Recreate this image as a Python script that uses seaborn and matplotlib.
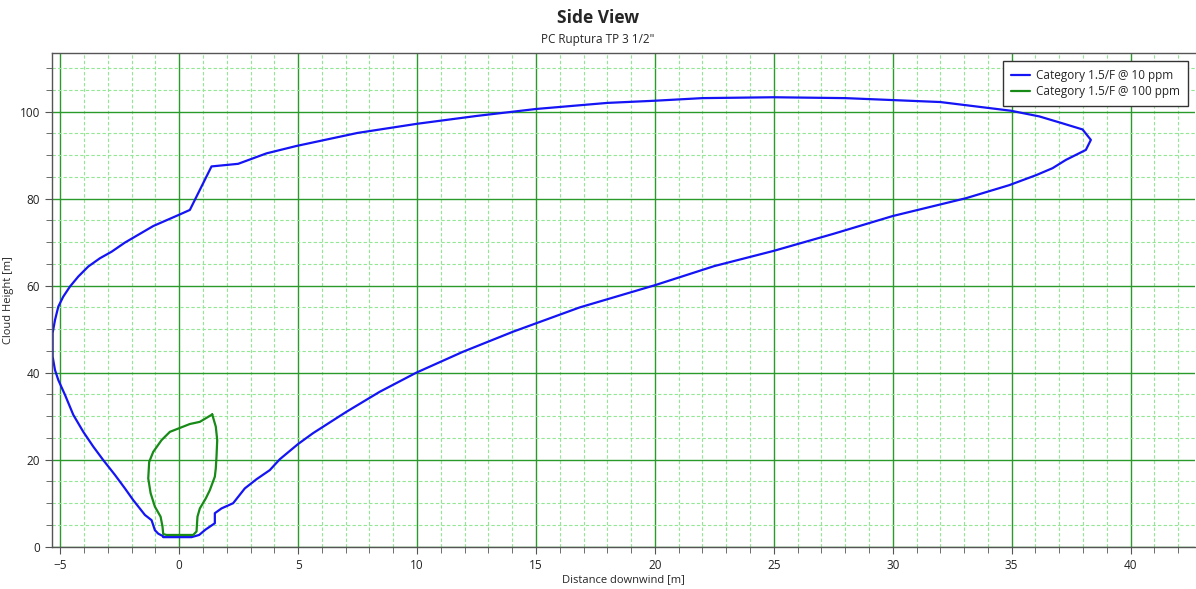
import numpy as np
import pandas as pd
import seaborn as sns
import matplotlib.pyplot as plt
from matplotlib.ticker import MultipleLocator

# contour: distance downwind [m], cloud height [m]
x_10ppm = [-0.67, -0.5, 0.0, 0.52, 0.84, 1.1, 1.5, 1.5, 1.78, 2.27, 2.76, 3.25, 3.81, 4.23, 5.0,
           5.63, 7.03, 8.43, 9.97, 11.93, 14.03, 16.84, 20.0, 22.5, 25.0, 27.5, 30.0, 33.08, 34.9,
           36.03, 36.72, 37.28, 38.12, 38.33, 37.98, 37.14, 36.16, 34.97, 32.0, 28.0, 25.0, 22.0,
           20.0, 18.0, 15.0, 12.5, 10.0, 7.5, 4.93, 3.67, 2.48, 1.36, 0.45, 0.0, -1.09, -2.28,
           -2.84, -3.33, -3.82, -4.24, -4.59, -4.87, -5.08, -5.22, -5.32, -5.32, -5.22, -5.08,
           -4.8, -4.45, -4.03, -3.61, -3.19, -2.7, -2.28, -1.93, -1.44, -1.16, -1.02, -0.88, -0.67]
y_10ppm = [2.2, 2.2, 2.2, 2.2, 2.7, 3.9, 5.4, 7.7, 8.8, 10.0, 13.4, 15.5, 17.6, 20.1, 23.6,
           26.1, 31.0, 35.6, 40.0, 44.8, 49.4, 55.0, 60.1, 64.5, 68.0, 71.9, 76.0, 80.1, 83.1,
           85.4, 87.0, 88.9, 91.2, 93.5, 95.9, 97.3, 98.9, 100.2, 102.2, 103.1, 103.3, 103.1,
           102.5, 102.0, 100.6, 99.0, 97.2, 95.1, 92.1, 90.4, 88.0, 87.4, 77.4, 76.3, 73.7, 69.9,
           67.8, 66.3, 64.4, 62.1, 59.8, 57.5, 55.2, 52.1, 49.1, 43.7, 40.6, 38.3,
           34.9, 30.3, 26.4, 23.0, 19.9, 16.5, 13.4, 10.7, 7.3, 6.1, 3.8, 3.0, 2.4]

x_100ppm = [1.39, 0.87, 0.45, -0.39, -0.74, -1.09, -1.26, -1.3, -1.2, -1.02, -0.78, -0.7, -0.67,
            -0.53, 0.59, 0.73, 0.77, 0.87, 1.12, 1.29, 1.5, 1.54, 1.57, 1.6, 1.54, 1.39]
y_100ppm = [30.4, 28.7, 28.2, 26.4, 24.5, 21.8, 19.5, 15.7, 12.3, 9.2, 6.9, 4.6, 2.9,
            2.7, 2.7, 3.5, 6.9, 8.8, 11.1, 13.0, 16.1, 18.0, 20.7, 24.5, 27.6, 30.4]

labels = ['Category 1.5/F @ 10 ppm', 'Category 1.5/F @ 100 ppm']

df = pd.concat([
    pd.DataFrame({'x': x_10ppm, 'y': y_10ppm, 'series': labels[0]}),
    pd.DataFrame({'x': x_100ppm, 'y': y_100ppm, 'series': labels[1]}),
], ignore_index=True)

sns.set_style('white')
plt.rcParams['font.family'] = ['Open Sans', 'DejaVu Sans']

fig = plt.figure(figsize=(11.96, 5.89), dpi=100)
ax = fig.add_axes([0.0432, 0.0718, 0.9558, 0.8377])

sns.lineplot(data=df, x='x', y='y', hue='series', estimator=None, sort=False,
             palette={labels[0]: '#1414f5', labels[1]: '#178a17'}, linewidth=1.6, ax=ax)

ax.set_xlim(-5.36, 42.7)
ax.set_ylim(0, 113.4)
ax.xaxis.set_major_locator(MultipleLocator(5))
ax.xaxis.set_minor_locator(MultipleLocator(1))
ax.yaxis.set_major_locator(MultipleLocator(20))
ax.yaxis.set_minor_locator(MultipleLocator(5))

ax.grid(which='minor', color='#92e892', linestyle=(0, (3, 2)), linewidth=0.8)
ax.grid(which='major', color='#2a9a2a', linestyle='-', linewidth=1.0)
ax.set_axisbelow(True)

for side in ['left', 'bottom', 'top']:
    ax.spines[side].set_color('#555555')
    ax.spines[side].set_linewidth(1.0)
ax.spines['right'].set_visible(False)

ax.tick_params(which='both', direction='out', color='#555555', labelsize=8.5, labelcolor='#222222',
               bottom=True, left=True)
ax.tick_params(which='major', length=5)
ax.tick_params(which='minor', length=4)

ax.set_xlabel('Distance downwind [m]', fontsize=8, labelpad=2)
ax.set_ylabel('Cloud Height [m]', fontsize=8, labelpad=4)

fig.text(0.5, 0.985, 'Side View', ha='center', va='top', fontsize=12.5, fontweight='bold')
fig.text(0.5, 0.944, 'PC Ruptura TP 3 1/2"', ha='center', va='top', fontsize=8.5)

handles, lbls = ax.get_legend_handles_labels()
leg = ax.legend(handles, lbls, loc='upper right', bbox_to_anchor=(0.994, 0.984), borderaxespad=0,
                fontsize=8.5, frameon=True, fancybox=False, shadow=False, borderpad=0.7,
                handlelength=1.6, handletextpad=0.5, labelspacing=0.2, framealpha=1)
leg.get_frame().set_edgecolor('#333333')
leg.get_frame().set_linewidth(1.0)

fig.savefig('out.png', dpi=100)
